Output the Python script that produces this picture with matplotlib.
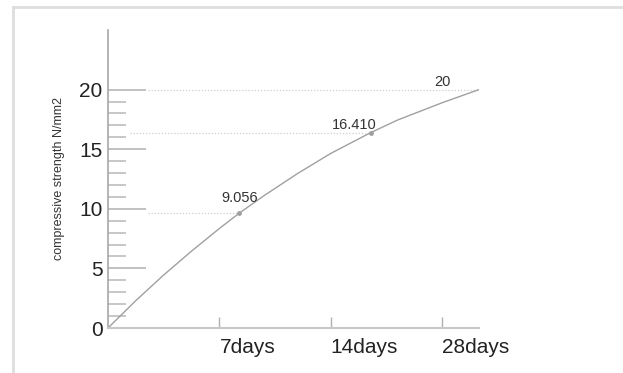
import matplotlib
matplotlib.use("Agg")
import matplotlib.pyplot as plt
from matplotlib.lines import Line2D

plt.rcParams['font.family'] = ['Liberation Sans', 'DejaVu Sans']

# Categories on the x axis (tick positions 1, 2, 3)
categories = ["7days", "14days", "28days"]
category_pos = [1, 2, 3]

# Curve (x in axis units, y in N/mm2)
curve_x = [0, 0.25, 0.5, 0.75, 1.0, 1.18, 1.4, 1.7, 2.0, 2.36, 2.6, 3.0, 3.33]
curve_y = [0, 2.3, 4.45, 6.45, 8.35, 9.65, 11.1, 12.95, 14.65, 16.4, 17.45, 18.9, 20.0]

# Labelled points
point_x = [1.18, 2.36, 3.33]
point_y = [9.65, 16.4, 20.0]
point_labels = ["9.056", "16.410", "20"]
label_x = [1.184, 2.206, 3.004]
label_y = [10.9, 17.07, 20.64]
guide_start = [0.36, 0.2, 0.36]

y_ticks = [0, 5, 10, 15, 20]
y_minor = [v for v in range(0, 21) if v % 5 != 0]

fig = plt.figure(figsize=(6.23, 3.73), dpi=100)
ax = fig.add_axes([108/623, 45/373, 371/623, 298/373])

# outer light frame
fig.add_artist(Line2D([13/623, 13/623], [0, 1 - 7/373], transform=fig.transFigure,
                      color="#dedede", lw=2))
fig.add_artist(Line2D([13/623, 1], [1 - 7/373, 1 - 7/373], transform=fig.transFigure,
                      color="#dedede", lw=2))

# dotted guide lines
for gx, px, py in zip(guide_start, point_x, point_y):
    ax.plot([gx, px], [py, py], linestyle=(0, (1, 1.5)), color="#cfcfcf", lw=0.9)

ax.plot(curve_x, curve_y, color="#a0a0a0", lw=1.0)
ax.plot(point_x[:2], point_y[:2], 'o', color="#a0a0a0", ms=2.5)

for lx, ly, t in zip(label_x, label_y, point_labels):
    ax.text(lx, ly, t, ha="center", va="center", fontsize=10.5, color="#333333")

ax.set_xlim(0, 3.33)
ax.set_ylim(0, 25)

for s in ["top", "right"]:
    ax.spines[s].set_visible(False)
ax.spines["left"].set_color("#a8a8a8")
ax.spines["bottom"].set_color("#c8c8c8")
ax.spines["left"].set_linewidth(1.2)
ax.spines["bottom"].set_linewidth(1.5)

ax.set_yticks(y_ticks)
ax.set_yticklabels([str(v) for v in y_ticks])
ax.set_yticks(y_minor, minor=True)
ax.tick_params(axis="y", which="major", direction="in", length=27, width=1.1,
               color="#b0b0b0", labelsize=15, pad=4, labelcolor="#222222")
ax.tick_params(axis="y", which="minor", direction="in", length=13, width=1.1,
               color="#b8b8b8")

ax.set_xticks(category_pos)
ax.set_xticklabels(categories)
for lab in ax.get_xticklabels():
    lab.set_horizontalalignment("left")
ax.tick_params(axis="x", which="major", direction="in", length=8, width=1.0,
               color="#b0b0b0", labelsize=15, pad=7, labelcolor="#222222")

ax.set_ylabel("compressive strength N/mm2", fontsize=9, color="#333333", labelpad=10)

fig.savefig("out.png", dpi=100)
